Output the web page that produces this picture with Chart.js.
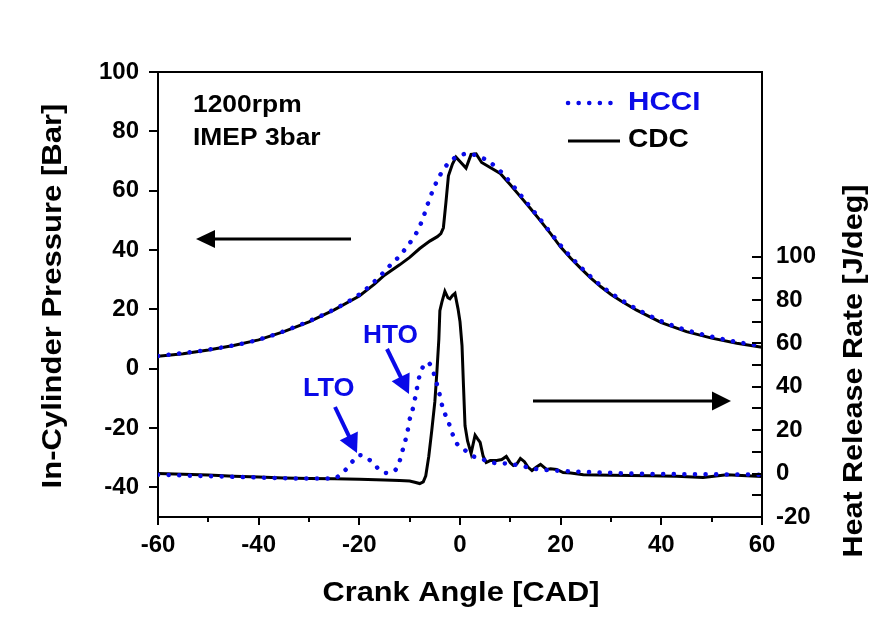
<!DOCTYPE html>
<html>
<head>
<meta charset="utf-8">
<script src="https://cdn.jsdelivr.net/npm/chart.js@4/dist/chart.umd.min.js"></script>
<style>
html,body{margin:0;padding:0;background:#fff;}
#wrap{width:886px;height:621px;}
</style>
</head>
<body>
<div id="wrap"><canvas id="c" width="886" height="621"></canvas></div>
<script>
// ---- data ----
const xTicks = [-60, -40, -20, 0, 20, 40, 60];
const pressureTicks = [-40, -20, 0, 20, 40, 60, 80, 100];
const hrrTicks = [-20, 0, 20, 40, 60, 80, 100];

const cdcPressureCad = [-60,-55,-50,-45,-40,-35,-30,-25,-20,-17,-15,-12,-10,-8,-6,-4.5,-3.8,-3.3,-2.8,-2.3,-1.5,-0.8,0,1.2,2.2,3.2,4.3,6,8,10,12,14,16,18,20,22,24,26,28,30,32,35,40,45,50,55,60];
const cdcPressure = [4.2,5.0,6.3,7.8,9.7,12.5,15.8,19.8,24.5,28.5,31.5,35,37.5,40.5,43,44.5,45.5,47.5,56,65,69,71.3,69.8,67.6,72.2,72.4,69.5,67.8,65.8,62,58,54,49.8,45.5,41,37.2,33.8,30.5,27.6,25,22.8,19.8,15.5,12.5,10.3,8.6,7.2];

const hcciPressureCad = [-60,-50,-40,-30,-25,-20,-18,-16,-14,-12,-10.5,-9.3,-8.1,-7.2,-6.3,-5.3,-4.2,-3,-2,-0.8,0.5,1.5,3,4.5,6,8,10,12,14,16,18,20,24,28,32,36,40,45,50,55,60];
const hcciPressure = [4.3,6.4,9.8,16,20,25,27.8,31,34.6,38,41.2,44,47.6,51.5,56,60.5,64.5,67.8,69.8,71.3,72.2,72.5,72,71,69.5,66.6,62.8,58.6,54.4,50.2,45.8,41.5,34.2,28,23.2,19.3,16,13,10.8,9,7.6];

const cdcHrrCad = [-60,-55,-50,-45,-40,-35,-30,-25,-20,-15,-12,-10,-9,-8,-7.3,-6.8,-6.2,-5.6,-5,-4.6,-4.2,-4,-3.6,-3,-2.4,-2,-1.5,-1,-0.4,0,0.4,0.7,1,1.5,2.2,3,3.5,4,4.6,5.2,6,7.3,8.3,9.2,10,10.6,11.3,12,12.8,13.5,14.3,15.2,16,17.2,18,19.2,20.5,22,24.5,30,37.7,43,48.3,53,56,60];
const cdcHrr = [0,-0.3,-0.7,-1.2,-1.6,-2,-2.3,-2.4,-2.6,-3,-3.2,-3.4,-4,-4.6,-3.8,-1,8,20,33,46.5,62,75,79,84,81,80.5,82,83,76,70,59,40,22,15,9.3,17.7,16,14.4,8,5.1,6,6,6.5,7.9,5,3.7,4.5,7,5.5,3,1.4,3,4.2,1.9,2.2,1.9,0.5,0.3,-0.5,-0.8,-1,-1.2,-1.8,-0.5,-0.9,-1.4];

const hcciHrrCad = [-60,-50,-40,-30,-25,-23.8,-22.5,-21.2,-19.9,-18.5,-17,-15.8,-14.5,-13.3,-12.3,-11.3,-10.5,-9.9,-9.3,-8.7,-8.1,-7.4,-6.6,-5.6,-5,-4.1,-3.4,-2.4,-1.6,-0.8,0.6,2.3,4,6.6,9.3,12,14.5,18,22.5,28,35,45,55,60];
const hcciHrr = [-0.5,-1.2,-1.8,-2.3,-2.3,-0.5,2.3,6,8.5,7.2,4.2,1.2,0.3,0.8,3.7,11.6,18.6,26,30.5,37.5,44.5,49,51.3,49,44.5,37,30,24.5,19,14.4,11.6,8.3,7,5,4.6,3.7,2.3,1.5,1,0.5,0,-0.3,-0.4,-0.5];

const seriesNames = ['HCCI', 'CDC'];
const annotationLines = ['1200rpm', 'IMEP 3bar'];
const axisTitles = {x: 'Crank Angle [CAD]', y: 'In-Cylinder Pressure [Bar]', y2: 'Heat Release Rate [J/deg]'};

// ---- styling ----
const BLUE = '#0a0ae8';
const FONT = '"Liberation Sans", Arial, Helvetica, sans-serif';
const pts = (xs, ys) => xs.map((x, i) => ({x: x, y: ys[i]}));

function txt(ctx, s, x, y, size, color, align, rot, sx) {
  ctx.save();
  ctx.translate(x, y);
  ctx.rotate(rot || 0);
  ctx.scale(sx || 1, 1);
  ctx.font = 'bold ' + size + 'px ' + FONT;
  ctx.fillStyle = color;
  ctx.textAlign = align || 'left';
  ctx.textBaseline = 'middle';
  ctx.fillText(s, 0, 0);
  ctx.restore();
}

function arrow(ctx, x1, y1, x2, y2, color, lw, headLen, headHalf) {
  const a = Math.atan2(y2 - y1, x2 - x1);
  const bx = x2 - headLen * Math.cos(a), by = y2 - headLen * Math.sin(a);
  ctx.save();
  ctx.strokeStyle = color; ctx.fillStyle = color; ctx.lineWidth = lw; ctx.lineCap = 'butt';
  ctx.beginPath(); ctx.moveTo(x1, y1); ctx.lineTo(bx + Math.cos(a) * 2, by + Math.sin(a) * 2); ctx.stroke();
  ctx.beginPath();
  ctx.moveTo(x2, y2);
  ctx.lineTo(bx + headHalf * Math.sin(a), by - headHalf * Math.cos(a));
  ctx.lineTo(bx - headHalf * Math.sin(a), by + headHalf * Math.cos(a));
  ctx.closePath(); ctx.fill();
  ctx.restore();
}

const decorPlugin = {
  id: 'decor',
  afterDraw(chart) {
    const ctx = chart.ctx;
    const ca = chart.chartArea;
    const xs = chart.scales.x, y2 = chart.scales.y2;
    ctx.save();
    ctx.strokeStyle = '#000'; ctx.lineWidth = 2;
    // top frame line
    ctx.beginPath(); ctx.moveTo(ca.left - 1, ca.top); ctx.lineTo(ca.right + 1, ca.top); ctx.stroke();
    // minor x ticks
    for (let v = -50; v <= 50; v += 20) {
      const px = Math.round(xs.getPixelForValue(v));
      ctx.beginPath(); ctx.moveTo(px, ca.bottom); ctx.lineTo(px, ca.bottom + 5); ctx.stroke();
    }
    // right axis ticks (inward)
    for (let v = -10; v <= 100; v += 10) {
      const py = Math.round(y2.getPixelForValue(v));
      ctx.beginPath(); ctx.moveTo(ca.right - 10, py); ctx.lineTo(ca.right, py); ctx.stroke();
    }
    ctx.restore();

    // axis titles
    txt(ctx, axisTitles.y, 54, 296, 27, '#000', 'center', -Math.PI / 2, 1.15);
    txt(ctx, axisTitles.x, 461, 594, 27, '#000', 'center', 0, 1.14);
    txt(ctx, axisTitles.y2, 855, 371, 27, '#000', 'center', -Math.PI / 2, 1.13);

    // condition text
    txt(ctx, annotationLines[0], 193, 105, 24, '#000', 'left', 0, 1.1);
    txt(ctx, annotationLines[1], 193, 138, 24, '#000', 'left', 0, 1.1);

    // legend
    ctx.save();
    ctx.strokeStyle = BLUE; ctx.lineWidth = 4.5; ctx.lineCap = 'round';
    ctx.setLineDash([0.1, 10.5]);
    ctx.beginPath(); ctx.moveTo(568, 103); ctx.lineTo(612, 103); ctx.stroke();
    ctx.setLineDash([]);
    ctx.strokeStyle = '#000'; ctx.lineWidth = 3; ctx.lineCap = 'butt';
    ctx.beginPath(); ctx.moveTo(568, 141); ctx.lineTo(620, 141); ctx.stroke();
    ctx.restore();
    txt(ctx, seriesNames[0], 628, 103, 26, BLUE, 'left', 0, 1.14);
    txt(ctx, seriesNames[1], 628, 140, 26, '#000', 'left', 0, 1.08);

    // axis direction arrows
    arrow(ctx, 351, 239, 196, 239, '#000', 3, 19, 9);
    arrow(ctx, 533, 401, 731, 401, '#000', 3, 19, 9.5);

    // LTO / HTO labels
    txt(ctx, 'LTO', 303, 389, 25, BLUE, 'left', 0, 1.08);
    txt(ctx, 'HTO', 363, 336, 25, BLUE, 'left', 0, 1.05);
    arrow(ctx, 335, 407, 357, 453, BLUE, 4, 19, 10);
    arrow(ctx, 387, 349, 409, 394, BLUE, 4, 19, 10);
  }
};

const tickFont = {family: FONT, size: 24, weight: 'bold'};

new Chart(document.getElementById('c'), {
  type: 'line',
  data: {
    datasets: [
      {label: 'HCCI pressure', data: pts(hcciPressureCad, hcciPressure), yAxisID: 'y', borderColor: BLUE, borderWidth: 4.5, borderDash: [0.1, 10.5], borderCapStyle: 'round', pointRadius: 0, cubicInterpolationMode: 'monotone', order: 0},
      {label: 'HCCI HRR', data: pts(hcciHrrCad, hcciHrr), yAxisID: 'y2', borderColor: BLUE, borderWidth: 4.5, borderDash: [0.1, 10.5], borderCapStyle: 'round', pointRadius: 0, cubicInterpolationMode: 'monotone', order: 0},
      {label: 'CDC pressure', data: pts(cdcPressureCad, cdcPressure), yAxisID: 'y', borderColor: '#000', borderWidth: 3, pointRadius: 0, tension: 0, order: 1},
      {label: 'CDC HRR', data: pts(cdcHrrCad, cdcHrr), yAxisID: 'y2', borderColor: '#000', borderWidth: 3, pointRadius: 0, tension: 0, order: 1}
    ]
  },
  options: {
    responsive: false,
    devicePixelRatio: 1,
    animation: false,
    events: [],
    layout: {padding: {top: 72, left: 0, right: 0, bottom: 0}},
    plugins: {legend: {display: false}, tooltip: {enabled: false}},
    scales: {
      x: {
        type: 'linear', min: -60, max: 60,
        afterBuildTicks: s => { s.ticks = xTicks.map(v => ({value: v})); },
        afterFit: s => { s.height = 104; },
        ticks: {font: tickFont, color: '#000', padding: 6, maxRotation: 0, autoSkip: false},
        grid: {display: true, drawOnChartArea: false, drawTicks: true, tickLength: 8, color: '#000', lineWidth: 2},
        border: {display: true, color: '#000', width: 2}
      },
      y: {
        type: 'linear', position: 'left', min: -50, max: 100,
        afterBuildTicks: s => { s.ticks = pressureTicks.map(v => ({value: v})); },
        afterFit: s => { s.width = 158; },
        ticks: {font: tickFont, color: '#000', padding: 10, autoSkip: false},
        grid: {display: true, drawOnChartArea: false, drawTicks: true, tickLength: 9, color: '#000', lineWidth: 2},
        border: {display: true, color: '#000', width: 2}
      },
      y2: {
        type: 'linear', position: 'right', min: -20, max: 185,
        afterBuildTicks: s => { s.ticks = hrrTicks.map(v => ({value: v})); },
        afterFit: s => { s.width = 124; },
        ticks: {font: tickFont, color: '#000', padding: 14, autoSkip: false},
        grid: {display: false, drawOnChartArea: false, drawTicks: false},
        border: {display: true, color: '#000', width: 2}
      }
    }
  },
  plugins: [decorPlugin]
});
</script>
</body>
</html>
